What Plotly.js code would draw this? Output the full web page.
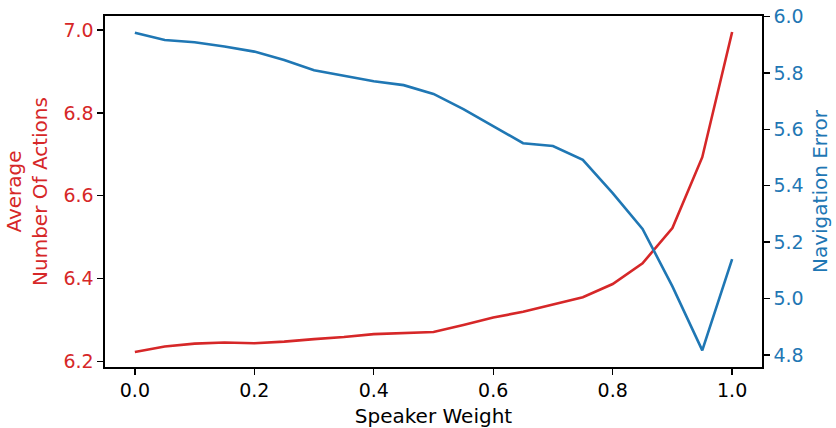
<!DOCTYPE html>
<html>
<head>
<meta charset="utf-8">
<script src="https://cdn.plot.ly/plotly-3.0.1.min.js"></script>
<style>html,body{margin:0;padding:0;background:#fff;}#chart{width:836px;height:428px;}</style>
</head>
<body>
<div id="chart"></div>
<script>
const speakerWeight = [0.0,0.05,0.1,0.15,0.2,0.25,0.3,0.35,0.4,0.45,0.5,0.55,0.6,0.65,0.7,0.75,0.8,0.85,0.9,0.95,1.0];
const avgActions = [6.223,6.236,6.243,6.246,6.244,6.248,6.254,6.259,6.266,6.269,6.271,6.288,6.306,6.320,6.337,6.355,6.387,6.437,6.522,6.693,6.995];
const navError = [5.943,5.917,5.909,5.894,5.876,5.846,5.810,5.791,5.771,5.757,5.726,5.672,5.613,5.551,5.541,5.492,5.374,5.247,5.043,4.816,5.140];
const xTicks = [0.0,0.2,0.4,0.6,0.8,1.0];
const leftTicks = [6.2,6.4,6.6,6.8,7.0];
const rightTicks = [4.8,5.0,5.2,5.4,5.6,5.8,6.0];

const RED = '#d62728', BLUE = '#1f77b4';
const FONT = 'DejaVu Sans';
const TFS = 19;
const LFS = 20;

const traces = [
  {x: speakerWeight, y: avgActions, type: 'scatter', mode: 'lines', line: {color: RED, width: 2.6}, yaxis: 'y', hoverinfo: 'skip'},
  {x: speakerWeight, y: navError, type: 'scatter', mode: 'lines', line: {color: BLUE, width: 2.6}, yaxis: 'y2', hoverinfo: 'skip'}
];

const layout = {
  width: 836, height: 428,
  margin: {l: 105, r: 74, t: 16, b: 61, pad: 0},
  paper_bgcolor: '#fff', plot_bgcolor: '#fff',
  showlegend: false,
  font: {family: FONT, size: TFS, color: '#000'},
  xaxis: {
    range: [-0.05, 1.05], tickvals: xTicks, ticktext: xTicks.map(v => v.toFixed(1)),
    showgrid: false, zeroline: false, showline: true, mirror: true, linecolor: '#000', linewidth: 1.6,
    ticks: 'outside', ticklen: 6, tickwidth: 1.3, tickcolor: '#000',
    tickfont: {family: FONT, size: TFS, color: '#000'},
    title: {text: 'Speaker Weight', font: {family: FONT, size: LFS, color: '#000'}, standoff: 9}
  },
  yaxis: {
    range: [6.1867, 7.0337], tickvals: leftTicks, ticktext: leftTicks.map(v => v.toFixed(1)),
    showgrid: false, zeroline: false, showline: true, linecolor: '#000', linewidth: 1.6,
    ticks: 'outside', ticklen: 6, tickwidth: 1.3, tickcolor: '#000',
    tickfont: {family: FONT, size: TFS, color: RED},
    title: {text: 'Average<br>Number Of Actions', font: {family: FONT, size: LFS, color: RED}, standoff: 10}
  },
  yaxis2: {
    overlaying: 'y', side: 'right',
    range: [4.757, 6.0023], tickvals: rightTicks, ticktext: rightTicks.map(v => v.toFixed(1)),
    showgrid: false, zeroline: false, showline: true, linecolor: '#000', linewidth: 1.6,
    ticks: 'outside', ticklen: 6, tickwidth: 1.3, tickcolor: '#000',
    tickfont: {family: FONT, size: TFS, color: BLUE},
    title: {text: 'Navigation Error', font: {family: FONT, size: LFS, color: BLUE}, standoff: 10}
  }
};

Plotly.newPlot('chart', traces, layout, {displayModeBar: false, staticPlot: true});
</script>
</body>
</html>
